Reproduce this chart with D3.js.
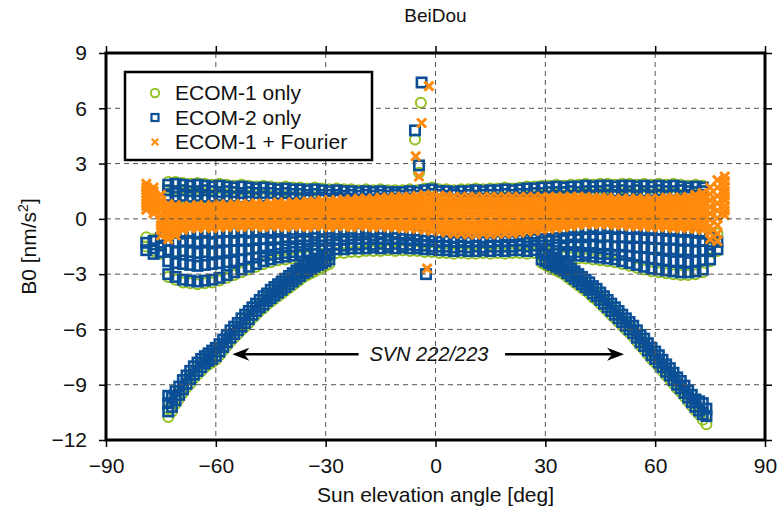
<!DOCTYPE html>
<html>
<head>
<meta charset="utf-8">
<script src="https://cdn.jsdelivr.net/npm/d3@7"></script>
<style>
  body { margin: 0; background: #fff; }
  svg { font-family: "Liberation Sans", Arial, Helvetica, sans-serif; }
</style>
</head>
<body>
<script>
// sun elevation grid (deg) for the main bands
const elev = [-79,-77,-75,-73,-71,-69,-67,-65,-63,-61,
  -59,-57,-55,-53,-51,-49,-47,-45,-43,-41,
  -39,-37,-35,-33,-31,-29,-27,-25,-23,-21,
  -19,-17,-15,-13,-11,-9,-7,-5,-3,-1,
  1,3,5,7,9,11,13,15,17,19,
  21,23,25,27,29,31,33,35,37,39,
  41,43,45,47,49,51,53,55,57,59,
  61,63,65,67,69,71,73,75,77,79];

// B0 values at each elevation (nm/s^2)
const ecom1Cols = [
  [-1.0,-1.5],[-1.1,-1.75],[-0.95,-1.9],
  [2.0,1.55,1.1,-0.8,-1.7,-3.15],[2.0,1.5,1.1,-0.75,-1.8,-3.3],[1.95,1.55,1.15,-0.8,-1.75,-3.45],
  [1.9,1.5,1.1,-0.75,-1.8,-3.5],[1.95,1.5,1.15,-0.8,-1.85,-3.55],[1.9,1.55,1.1,-0.75,-1.8,-3.5],
  [1.85,1.5,1.1,-0.8,-1.85,-3.45],
  [1.9,1.45,1.15,-0.75,-1.8,-3.35],[1.85,1.5,1.1,-0.7,-1.75,-3.2],[1.8,1.45,1.1,-0.75,-1.7,-3.05],
  [1.85,1.4,1.05,-0.7,-1.7,-2.9],[1.8,1.45,1.1,-0.75,-1.65,-2.75],[1.75,1.4,1.05,-0.7,-1.6,-2.6],
  [1.8,1.4,1.1,-0.7,-1.6,-2.45],[1.75,1.4,1.05,-0.75,-1.55,-2.35],[1.7,1.35,1.05,-0.7,-1.55,-2.25],
  [1.75,1.4,1.0,-0.7,-1.5,-2.2],
  [1.7,1.35,1.05,-0.75,-1.5,-2.15],[1.7,1.35,1.0,-0.7,-1.45,-2.1],[1.65,1.3,1.05,-0.7,-1.45,-2.05],
  [1.7,1.35,1.0,-0.75,-1.4,-1.9],[1.65,1.3,1.05,-0.7,-1.45,-1.9],[1.6,1.3,1.0,-0.7,-1.4,-1.9],
  [1.65,1.3,1.05,-0.75,-1.4,-1.85],[1.6,1.25,1.0,-0.7,-1.45,-1.85],[1.6,1.3,1.0,-0.7,-1.4,-1.8],
  [1.55,1.25,0.95,-0.75,-1.4,-1.8],
  [1.6,1.3,1.0,-0.7,-1.35,-1.75],[1.55,1.25,0.95,-0.7,-1.4,-1.75],[1.6,1.3,1.0,-0.75,-1.35,-1.75],
  [1.55,1.25,0.95,-0.7,-1.4,-1.7],[1.55,1.3,1.0,-0.75,-1.35,-1.75],[1.55,1.25,0.95,-0.8,-1.4,-1.7],
  [1.6,1.3,1.0,-0.8,-1.4,-1.75],[1.55,1.25,0.95,-0.85,-1.45,-1.75],[1.65,1.3,1.0,-0.9,-1.45,-1.8],
  [1.7,1.35,1.0,-0.9,-1.5,-1.8],
  [1.6,1.3,0.95,-0.95,-1.5,-1.85],[1.6,1.25,1.0,-0.95,-1.5,-1.85],[1.55,1.3,0.95,-1.0,-1.55,-1.9],
  [1.6,1.25,1.0,-0.95,-1.5,-1.85],[1.6,1.3,0.95,-1.0,-1.55,-1.9],[1.65,1.25,1.0,-0.95,-1.5,-1.9],
  [1.6,1.3,1.0,-1.0,-1.55,-1.85],[1.65,1.3,0.95,-0.95,-1.5,-1.9],[1.65,1.3,1.0,-0.95,-1.5,-1.85],
  [1.7,1.35,1.0,-0.9,-1.5,-1.9],
  [1.65,1.3,1.0,-0.9,-1.5,-1.85],[1.7,1.35,1.05,-0.85,-1.45,-1.85],[1.75,1.35,1.0,-0.8,-1.5,-1.9],
  [1.75,1.4,1.05,-0.8,-1.45,-1.85],[1.8,1.4,1.05,-0.75,-1.45,-1.9],[1.8,1.45,1.1,-0.7,-1.45,-1.85],
  [1.85,1.45,1.1,-0.7,-1.4,-1.9],[1.8,1.45,1.1,-0.65,-1.45,-2.05],[1.85,1.5,1.1,-0.6,-1.4,-2.1],
  [1.85,1.45,1.15,-0.6,-1.4,-2.15],
  [1.9,1.5,1.1,-0.55,-1.4,-2.15],[1.85,1.5,1.15,-0.55,-1.4,-2.2],[1.9,1.5,1.15,-0.55,-1.45,-2.25],
  [1.9,1.55,1.15,-0.5,-1.45,-2.3],[1.85,1.5,1.2,-0.55,-1.5,-2.35],[1.9,1.55,1.15,-0.5,-1.5,-2.45],
  [1.9,1.5,1.2,-0.55,-1.5,-2.55],[1.85,1.55,1.15,-0.55,-1.55,-2.65],[1.9,1.5,1.2,-0.6,-1.55,-2.75],
  [1.85,1.5,1.15,-0.6,-1.6,-2.85],
  [1.9,1.55,1.2,-0.6,-1.6,-2.9],[1.85,1.5,1.15,-0.65,-1.65,-2.95],[1.9,1.5,1.2,-0.65,-1.65,-3.0],
  [1.85,1.55,1.15,-0.7,-1.7,-3.05],[1.8,1.5,1.2,-0.7,-1.7,-3.05],[1.85,1.45,1.15,-0.75,-1.75,-3.0],
  [1.8,1.5,1.2,-0.8,-1.7,-2.9],[-0.85,-1.6,-2.3],[-0.8,-1.75],[]
];

const ecom2Cols = [
  [-1.3,-1.7],[-1.2,-1.6,-1.9],[-1.05,-1.45,-1.8],
  [1.85,1.55,1.25,-0.8,-1.2,-1.7,-2.3,-3.0],[1.9,1.5,1.2,-0.75,-1.25,-1.8,-2.4,-3.15],
  [1.85,1.55,1.25,-0.8,-1.2,-1.75,-2.45,-3.3],[1.8,1.5,1.2,-0.75,-1.2,-1.8,-2.5,-3.35],
  [1.85,1.5,1.25,-0.8,-1.25,-1.85,-2.55,-3.4],[1.8,1.55,1.2,-0.75,-1.2,-1.8,-2.5,-3.35],
  [1.75,1.5,1.2,-0.8,-1.25,-1.85,-2.45,-3.3],
  [1.8,1.45,1.25,-0.75,-1.2,-1.8,-2.4,-3.2],[1.75,1.5,1.2,-0.7,-1.2,-1.75,-2.35,-3.05],
  [1.7,1.45,1.2,-0.75,-1.2,-1.7,-2.3,-2.9],[1.75,1.4,1.15,-0.7,-1.15,-1.7,-2.2,-2.75],
  [1.7,1.45,1.2,-0.75,-1.2,-1.65,-2.15,-2.6],[1.65,1.4,1.15,-0.7,-1.15,-1.6,-2.1,-2.45],
  [1.7,1.4,1.2,-0.7,-1.1,-1.6,-2.0,-2.3],[1.65,1.4,1.15,-0.75,-1.15,-1.55,-1.95,-2.2],
  [1.6,1.35,1.15,-0.7,-1.1,-1.55,-1.9,-2.1],[1.65,1.4,1.1,-0.7,-1.15,-1.5,-1.85,-2.05],
  [1.6,1.35,1.15,-0.75,-1.1,-1.5,-1.8,-2.0],[1.6,1.35,1.1,-0.7,-1.1,-1.45,-1.8,-1.95],
  [1.55,1.3,1.15,-0.7,-1.1,-1.45,-1.75,-1.9],[1.6,1.35,1.1,-0.75,-1.05,-1.4,-1.7],
  [1.55,1.3,1.15,-0.7,-1.1,-1.45,-1.7],[1.5,1.3,1.1,-0.7,-1.05,-1.4,-1.7],
  [1.55,1.3,1.15,-0.75,-1.1,-1.4,-1.65],[1.5,1.25,1.1,-0.7,-1.1,-1.45,-1.65],
  [1.5,1.3,1.1,-0.7,-1.05,-1.4,-1.6],[1.45,1.25,1.05,-0.75,-1.1,-1.4,-1.6],
  [1.5,1.3,1.1,-0.7,-1.05,-1.35,-1.6],[1.45,1.25,1.05,-0.7,-1.1,-1.4,-1.55],
  [1.5,1.3,1.1,-0.75,-1.05,-1.35,-1.6],[1.45,1.25,1.05,-0.7,-1.1,-1.4,-1.55],
  [1.45,1.3,1.1,-0.75,-1.05,-1.35,-1.6],[1.45,1.25,1.05,-0.8,-1.1,-1.4,-1.55],
  [1.5,1.3,1.1,-0.8,-1.15,-1.4,-1.6],[1.45,1.25,1.05,-0.85,-1.15,-1.45,-1.6],
  [1.55,1.3,1.1,-0.9,-1.2,-1.45,-1.65],[1.6,1.35,1.1,-0.9,-1.2,-1.5,-1.65],
  [1.5,1.3,1.05,-0.95,-1.25,-1.5,-1.7],[1.5,1.25,1.1,-0.95,-1.2,-1.5,-1.7],
  [1.45,1.3,1.05,-1.0,-1.25,-1.55,-1.75],[1.5,1.25,1.1,-0.95,-1.25,-1.5,-1.7],
  [1.5,1.3,1.05,-1.0,-1.25,-1.55,-1.75],[1.55,1.25,1.1,-0.95,-1.2,-1.5,-1.75],
  [1.5,1.3,1.1,-1.0,-1.25,-1.55,-1.7],[1.55,1.3,1.05,-0.95,-1.25,-1.5,-1.75],
  [1.55,1.3,1.1,-0.95,-1.2,-1.5,-1.7],[1.6,1.35,1.1,-0.9,-1.2,-1.5,-1.75],
  [1.55,1.3,1.1,-0.9,-1.2,-1.5,-1.7],[1.6,1.35,1.15,-0.85,-1.15,-1.45,-1.7],
  [1.65,1.35,1.1,-0.8,-1.15,-1.5,-1.75],[1.65,1.4,1.15,-0.8,-1.1,-1.45,-1.7],
  [1.7,1.4,1.15,-0.75,-1.1,-1.45,-1.75],[1.7,1.45,1.2,-0.7,-1.1,-1.45,-1.7],
  [1.75,1.45,1.2,-0.7,-1.05,-1.4,-1.75],[1.7,1.45,1.2,-0.65,-1.05,-1.45,-1.8,-1.9],
  [1.75,1.5,1.2,-0.6,-1.0,-1.4,-1.8,-1.95],[1.75,1.45,1.25,-0.6,-1.0,-1.4,-1.8,-2.0],
  [1.8,1.5,1.2,-0.55,-1.0,-1.4,-1.85,-2.0],[1.75,1.5,1.25,-0.55,-0.95,-1.4,-1.85,-2.05],
  [1.8,1.5,1.25,-0.55,-1.0,-1.45,-1.9,-2.1],[1.8,1.55,1.25,-0.5,-0.95,-1.45,-1.9,-2.15],
  [1.75,1.5,1.3,-0.55,-1.0,-1.5,-1.95,-2.2],[1.8,1.55,1.25,-0.5,-1.0,-1.5,-1.95,-2.3],
  [1.8,1.5,1.3,-0.55,-1.05,-1.5,-2.0,-2.4],[1.75,1.55,1.25,-0.55,-1.0,-1.55,-2.05,-2.5],
  [1.8,1.5,1.3,-0.6,-1.05,-1.55,-2.1,-2.6],[1.75,1.5,1.25,-0.6,-1.05,-1.6,-2.15,-2.7],
  [1.8,1.55,1.3,-0.6,-1.1,-1.6,-2.2,-2.75],[1.75,1.5,1.25,-0.65,-1.1,-1.65,-2.25,-2.8],
  [1.8,1.5,1.3,-0.65,-1.1,-1.65,-2.3,-2.85],[1.75,1.55,1.25,-0.7,-1.15,-1.7,-2.3,-2.9],
  [1.7,1.5,1.3,-0.7,-1.15,-1.7,-2.35,-2.9],[1.75,1.45,1.25,-0.75,-1.2,-1.75,-2.3,-2.85],
  [1.7,1.5,1.3,-0.8,-1.2,-1.7,-2.25,-2.75],[-1.0,-1.4,-1.75,-2.2],[-1.25,-1.65],[]
];

const fourierCols = [
  [1.9,1.7,1.55,1.4,1.2,1.0,0.85,0.7,0.5],
  [1.7,1.5,1.35,1.2,1.0,0.8,0.65,0.5,0.3],
  [1.3,1.0,0.75,0.5,0.2,-0.1,-0.35,-0.6,-0.9],
  [0.8,0.55,0.35,0.1,-0.15,-0.4,-0.6,-0.85,-1.1],
  [0.75,0.55,0.35,0.15,-0.05,-0.25,-0.5,-0.7,-0.9],
  [0.7,0.55,0.35,0.2,0.05,-0.1,-0.25,-0.45,-0.6],
  [0.7,0.55,0.4,0.25,0.1,-0.05,-0.2,-0.35,-0.5],
  [0.75,0.6,0.45,0.3,0.1,-0.05,-0.2,-0.35,-0.5],
  [0.7,0.55,0.4,0.25,0.1,0,-0.15,-0.3,-0.45],
  [0.75,0.6,0.45,0.3,0.1,-0.05,-0.2,-0.35,-0.5],
  [0.8,0.65,0.5,0.35,0.15,0,-0.15,-0.3,-0.45],
  [0.75,0.6,0.45,0.3,0.15,0,-0.15,-0.3,-0.45],
  [0.8,0.65,0.5,0.35,0.2,0.05,-0.1,-0.25,-0.4],
  [0.8,0.65,0.5,0.35,0.15,0,-0.15,-0.3,-0.45],
  [0.8,0.65,0.5,0.35,0.2,0.05,-0.1,-0.25,-0.4],
  [0.85,0.7,0.55,0.4,0.2,0.05,-0.1,-0.25,-0.4],
  [0.8,0.65,0.5,0.35,0.15,0,-0.15,-0.3,-0.45],
  [0.85,0.7,0.55,0.4,0.2,0.05,-0.1,-0.25,-0.4],
  [0.9,0.75,0.55,0.4,0.25,0.1,-0.1,-0.25,-0.4],
  [0.85,0.7,0.5,0.35,0.2,0.05,-0.15,-0.3,-0.45],
  [0.9,0.75,0.55,0.4,0.25,0.1,-0.1,-0.25,-0.4],
  [0.9,0.75,0.55,0.4,0.25,0.1,-0.1,-0.25,-0.4],
  [0.95,0.8,0.6,0.45,0.25,0.1,-0.1,-0.25,-0.45],
  [0.95,0.8,0.6,0.45,0.3,0.1,-0.05,-0.25,-0.4],
  [1.0,0.85,0.65,0.5,0.3,0.1,-0.05,-0.2,-0.4],
  [1.0,0.8,0.65,0.45,0.3,0.1,-0.1,-0.25,-0.45],
  [1.0,0.85,0.65,0.5,0.3,0.1,-0.05,-0.2,-0.4],
  [1.05,0.85,0.7,0.5,0.3,0.15,-0.05,-0.2,-0.4],
  [1.05,0.85,0.7,0.5,0.3,0.1,-0.1,-0.25,-0.45],
  [1.1,0.9,0.75,0.55,0.35,0.15,0,-0.2,-0.4],
  [1.1,0.9,0.75,0.55,0.35,0.15,0,-0.2,-0.4],
  [1.1,0.9,0.7,0.5,0.3,0.15,-0.05,-0.25,-0.45],
  [1.15,0.95,0.75,0.55,0.4,0.2,0,-0.2,-0.4],
  [1.15,0.95,0.75,0.55,0.35,0.15,-0.05,-0.25,-0.45],
  [1.2,1.0,0.8,0.6,0.4,0.15,-0.05,-0.25,-0.45],
  [1.2,1.0,0.75,0.55,0.35,0.15,-0.1,-0.3,-0.5],
  [1.2,1.0,0.75,0.55,0.35,0.15,-0.1,-0.3,-0.5],
  [1.25,1.05,0.8,0.55,0.35,0.1,-0.1,-0.3,-0.55],
  [1.3,1.05,0.85,0.6,0.35,0.1,-0.1,-0.35,-0.6],
  [1.3,1.05,0.8,0.55,0.35,0.1,-0.15,-0.4,-0.65],
  [1.25,1.0,0.75,0.55,0.3,0.05,-0.2,-0.45,-0.7],
  [1.25,1.0,0.75,0.5,0.25,0,-0.25,-0.5,-0.75],
  [1.2,0.95,0.7,0.45,0.2,-0.05,-0.3,-0.55,-0.8],
  [1.2,0.95,0.7,0.45,0.2,-0.05,-0.3,-0.55,-0.8],
  [1.2,0.95,0.7,0.45,0.2,-0.1,-0.35,-0.6,-0.85],
  [1.2,0.95,0.7,0.45,0.2,-0.1,-0.35,-0.6,-0.85],
  [1.2,0.95,0.7,0.45,0.2,-0.05,-0.3,-0.55,-0.8],
  [1.2,0.95,0.7,0.45,0.2,-0.1,-0.35,-0.6,-0.85],
  [1.2,0.95,0.7,0.45,0.2,-0.05,-0.3,-0.55,-0.8],
  [1.2,0.95,0.7,0.45,0.2,-0.05,-0.3,-0.55,-0.8],
  [1.2,0.95,0.7,0.45,0.2,-0.05,-0.3,-0.55,-0.8],
  [1.2,0.95,0.7,0.45,0.2,-0.05,-0.25,-0.5,-0.75],
  [1.2,0.95,0.75,0.5,0.25,0.05,-0.2,-0.45,-0.7],
  [1.2,0.95,0.75,0.5,0.3,0.05,-0.2,-0.4,-0.65],
  [1.2,0.95,0.75,0.5,0.3,0.1,-0.15,-0.35,-0.6],
  [1.2,1.0,0.75,0.55,0.35,0.1,-0.1,-0.35,-0.55],
  [1.2,1.0,0.75,0.55,0.35,0.15,-0.05,-0.3,-0.5],
  [1.2,1.0,0.8,0.6,0.4,0.15,-0.05,-0.25,-0.45],
  [1.2,1.0,0.8,0.6,0.4,0.2,0,-0.2,-0.4],
  [1.2,1.0,0.8,0.6,0.4,0.25,0.05,-0.15,-0.35],
  [1.2,1.0,0.85,0.65,0.45,0.25,0.05,-0.1,-0.3],
  [1.15,0.95,0.8,0.6,0.45,0.25,0.05,-0.1,-0.3],
  [1.15,0.95,0.8,0.6,0.45,0.25,0.05,-0.1,-0.3],
  [1.15,0.95,0.8,0.6,0.45,0.25,0.05,-0.1,-0.3],
  [1.1,0.9,0.75,0.55,0.35,0.2,0,-0.15,-0.35],
  [1.1,0.9,0.75,0.55,0.35,0.2,0,-0.15,-0.35],
  [1.1,0.9,0.75,0.55,0.35,0.15,0,-0.2,-0.4],
  [1.1,0.9,0.75,0.55,0.35,0.15,0,-0.2,-0.4],
  [1.1,0.9,0.75,0.55,0.35,0.15,0,-0.2,-0.4],
  [1.1,0.9,0.7,0.5,0.3,0.15,-0.05,-0.25,-0.45],
  [1.1,0.9,0.7,0.5,0.3,0.15,-0.05,-0.25,-0.45],
  [1.15,0.95,0.75,0.55,0.35,0.15,-0.05,-0.25,-0.45],
  [1.15,0.95,0.75,0.55,0.35,0.1,-0.1,-0.3,-0.5],
  [1.15,0.95,0.75,0.55,0.35,0.1,-0.1,-0.3,-0.5],
  [1.2,1.0,0.75,0.55,0.35,0.15,-0.1,-0.3,-0.5],
  [1.3,1.05,0.85,0.6,0.4,0.15,-0.1,-0.3,-0.55],
  [1.4,1.15,0.9,0.65,0.4,0.15,-0.1,-0.35,-0.6],
  [1.7,1.35,1.0,0.65,0.3,-0.05,-0.4,-0.75,-1.1],
  [2.1,1.7,1.25,0.85,0.45,0.05,-0.35,-0.8,-1.2],
  [2.3,2.05,1.75,1.5,1.25,1.0,0.7,0.45,0.2]
];

// SVN 222/223 arcs, 1 deg steps
const arcElevL = [-73,-72,-71,-70,-69,-68,-67,-66,-65,-64,
  -63,-62,-61,-60,-59,-58,-57,-56,-55,-54,
  -53,-52,-51,-50,-49,-48,-47,-46,-45,-44,
  -43,-42,-41,-40,-39,-38,-37,-36,-35,-34,
  -33,-32,-31,-30,-29];
const arcElevR = [29,30,31,32,33,34,35,36,37,38,
  39,40,41,42,43,44,45,46,47,48,
  49,50,51,52,53,54,55,56,57,58,
  59,60,61,62,63,64,65,66,67,68,
  69,70,71,72,73,74];

const ecom1ArcL = [[-10.75,-10.3],[-10.45,-10.0],[-10.05,-9.65],[-9.75,-9.35],[-9.45,-9.05],
  [-9.15,-8.75],[-8.95,-8.55],[-8.65,-8.25],[-8.45,-8.05],[-8.25,-7.85],
  [-8.05,-7.65],[-7.9,-7.5],[-7.8,-7.4],[-7.65,-7.25],[-7.4,-7.0],
  [-7.15,-6.75],[-6.9,-6.5],[-6.65,-6.25],[-6.45,-6.05],[-6.25,-5.85],
  [-6.05,-5.65],[-5.85,-5.45],[-5.65,-5.25],[-5.4,-5.0],[-5.2,-4.8],
  [-5.0,-4.6],[-4.85,-4.45],[-4.65,-4.25],[-4.5,-4.1],[-4.35,-3.95],
  [-4.2,-3.8],[-4.05,-3.65],[-3.9,-3.5],[-3.75,-3.35],[-3.6,-3.2],
  [-3.45,-3.05],[-3.3,-2.9],[-3.15,-2.75],[-3.05,-2.65],[-2.95,-2.55],
  [-2.85,-2.45],[-2.75,-2.35],[-2.65,-2.25],[-2.55,-2.15],[-2.45,-2.05]];
const ecom2ArcL = [[-9.6,-10.0,-10.45],[-9.7,-10.2],[-9.35,-9.85],[-9.1,-9.55],[-8.75,-9.25],
  [-8.5,-8.95],[-8.25,-8.7],[-8.0,-8.45],[-7.8,-8.25],[-7.6,-8.05],
  [-7.45,-7.85],[-7.3,-7.7],[-7.15,-7.6],[-7.0,-7.45],[-6.8,-7.2],
  [-6.55,-6.95],[-6.3,-6.7],[-6.05,-6.45],[-5.85,-6.25],[-5.65,-6.05],
  [-5.4,-5.85],[-5.2,-5.65],[-5.0,-5.45],[-4.8,-5.2],[-4.6,-5.0],
  [-4.4,-4.8],[-4.2,-4.65],[-4.05,-4.45],[-3.85,-4.3],[-3.7,-4.15],
  [-3.55,-4.0],[-3.4,-3.85],[-3.25,-3.7],[-3.1,-3.55],[-2.95,-3.4],
  [-2.8,-3.25],[-2.7,-3.1],[-2.55,-2.95],[-2.45,-2.85],[-2.35,-2.7],
  [-2.25,-2.6],[-2.15,-2.5],[-2.05,-2.4],[-2.0,-2.3],[-1.9,-2.2]];
const ecom1ArcR = [[-2.4,-2.05],[-2.5,-2.15],[-2.6,-2.25],[-2.7,-2.35],[-2.8,-2.45],
  [-2.9,-2.55],[-3.0,-2.65],[-3.15,-2.8],[-3.3,-2.95],[-3.45,-3.1],
  [-3.6,-3.25],[-3.75,-3.4],[-3.9,-3.55],[-4.05,-3.7],[-4.25,-3.9],
  [-4.4,-4.05],[-4.6,-4.25],[-4.8,-4.45],[-5.0,-4.65],[-5.2,-4.85],
  [-5.4,-5.05],[-5.6,-5.25],[-5.8,-5.45],[-6.0,-5.65],[-6.2,-5.85],
  [-6.4,-6.05],[-6.65,-6.3],[-6.9,-6.55],[-7.1,-6.75],[-7.35,-7.0],
  [-7.6,-7.25],[-7.8,-7.45],[-8.0,-7.65],[-8.25,-7.9],[-8.5,-8.15],
  [-8.7,-8.35],[-8.95,-8.6],[-9.2,-8.85],[-9.4,-9.05],[-9.65,-9.3],
  [-9.9,-9.55],[-10.15,-9.8],[-10.4,-10.05],[-10.6,-10.25],[-10.9,-10.45],[-11.15,-10.65]];
const ecom2ArcR = [[-1.85,-2.2],[-1.95,-2.3],[-2.05,-2.4],[-2.1,-2.5],[-2.2,-2.6],
  [-2.3,-2.7],[-2.4,-2.8],[-2.55,-2.95],[-2.7,-3.1],[-2.85,-3.25],
  [-3.0,-3.4],[-3.15,-3.55],[-3.3,-3.7],[-3.45,-3.85],[-3.65,-4.05],
  [-3.8,-4.2],[-4.0,-4.4],[-4.2,-4.6],[-4.4,-4.8],[-4.6,-5.0],
  [-4.8,-5.2],[-5.0,-5.4],[-5.2,-5.6],[-5.4,-5.8],[-5.6,-6.0],
  [-5.8,-6.2],[-6.05,-6.45],[-6.3,-6.7],[-6.5,-6.9],[-6.75,-7.15],
  [-7.0,-7.4],[-7.2,-7.6],[-7.4,-7.8],[-7.65,-8.05],[-7.9,-8.3],
  [-8.1,-8.5],[-8.35,-8.75],[-8.6,-9.0],[-8.8,-9.2],[-9.05,-9.45],
  [-9.3,-9.7],[-9.55,-9.95],[-9.8,-10.2],[-9.9,-10.4],[-10.0,-10.6],[-10.3,-10.7]];

// outliers near zero elevation [elev, B0]
const ecom1Odd = [[-4.0,6.3],[-5.6,4.3],[-4.5,2.5],[-3.4,-1.4]];
const ecom2Odd = [[-3.8,7.4],[-5.6,4.8],[-4.5,2.9],[-2.6,-3.0]];
const fourierOdd = [[-1.8,7.2],[-3.8,5.2],[-5.4,3.4],[-4.5,2.3],[-2.3,-2.7]];

const xTicks = [-90,-60,-30,0,30,60,90];
const yTicks = [-12,-9,-6,-3,0,3,6,9];
const seriesNames = ["ECOM-1 only","ECOM-2 only","ECOM-1 + Fourier"];
const colors = ["#93c11f","#0b4f97","#ff8a0c"];
const arrows = [{from: -21, to: -55.5, at: -7.35}, {from: 19, to: 51.5, at: -7.35}];

let W = 778, H = 511;
let margin = { top: 53, right: 13, bottom: 71, left: 106 },
  width = W - margin.left - margin.right,
  height = H - margin.top - margin.bottom;

let svg = d3.select("body").append("svg").attr("width", W).attr("height", H);
let g = svg.append("g").attr("transform", "translate(" + margin.left + "," + margin.top + ")");

let x = d3.scaleLinear().domain([-90, 90]).range([0, width]);
let y = d3.scaleLinear().domain([-12, 9]).range([height, 0]);

function cloud(xs, cols) {
  return cols.flatMap((c, i) => c.map((v) => [xs[i], v]));
}

let ecom1Pts = cloud(elev, ecom1Cols).concat(cloud(arcElevL, ecom1ArcL), cloud(arcElevR, ecom1ArcR), ecom1Odd);
let ecom2Pts = cloud(elev, ecom2Cols).concat(cloud(arcElevL, ecom2ArcL), cloud(arcElevR, ecom2ArcR), ecom2Odd);
let fourierPts = cloud(elev, fourierCols).concat(fourierOdd);

// marker drawers (legend)
function circles(sel, r) {
  return sel.append("circle").attr("r", r).attr("fill", "none")
    .attr("stroke", colors[0]).attr("stroke-width", 1.9);
}
function squares(sel, s) {
  return sel.append("rect").attr("x", -s / 2).attr("y", -s / 2).attr("width", s).attr("height", s)
    .attr("fill", "none").attr("stroke", colors[1]).attr("stroke-width", 2.2);
}
function crosses(sel, s) {
  return sel.append("path").attr("d", "M" + -s + "," + -s + "L" + s + "," + s + "M" + -s + "," + s + "L" + s + "," + -s)
    .attr("stroke", colors[2]).attr("stroke-width", 2).attr("fill", "none");
}

let plot = g.append("g");
plot.append("g").selectAll("circle").data(ecom1Pts).enter().append("circle")
  .attr("cx", (d) => x(d[0])).attr("cy", (d) => y(d[1])).attr("r", 5)
  .attr("fill", "none").attr("stroke", colors[0]).attr("stroke-width", 2);

plot.append("g").selectAll("rect").data(ecom2Pts).enter().append("rect")
  .attr("x", (d) => x(d[0]) - 4.7).attr("y", (d) => y(d[1]) - 4.7)
  .attr("width", 9.4).attr("height", 9.4)
  .attr("fill", "none").attr("stroke", colors[1]).attr("stroke-width", 2.6);

plot.append("g").selectAll("path").data(fourierPts).enter().append("path")
  .attr("transform", (d) => "translate(" + x(d[0]) + "," + y(d[1]) + ")")
  .attr("d", "M-4.5,-4.5L4.5,4.5M-4.5,4.5L4.5,-4.5")
  .attr("stroke", colors[2]).attr("stroke-width", 3).attr("fill", "none");

// grid on top of the points
let grid = g.append("g").attr("stroke", "#555").attr("stroke-width", 1).attr("stroke-dasharray", "5,4");
grid.selectAll(".gx").data(xTicks.slice(1, -1)).enter().append("line")
  .attr("x1", (d) => x(d)).attr("x2", (d) => x(d)).attr("y1", 0).attr("y2", height);
grid.selectAll(".gy").data(yTicks.slice(1, -1)).enter().append("line")
  .attr("y1", (d) => y(d)).attr("y2", (d) => y(d)).attr("x1", 0).attr("x2", width);

// axes
let axB = g.append("g").attr("transform", "translate(0," + height + ")")
  .call(d3.axisBottom(x).tickValues(xTicks).tickSize(7).tickPadding(11));
let axL = g.append("g")
  .call(d3.axisLeft(y).tickValues(yTicks).tickSize(7).tickPadding(12));
let axT = g.append("g")
  .call(d3.axisTop(x).tickValues(xTicks).tickSize(7).tickFormat(""));
let axR = g.append("g").attr("transform", "translate(" + width + ",0)")
  .call(d3.axisRight(y).tickValues(yTicks).tickSize(7).tickFormat(""));
[axB, axL, axT, axR].forEach((a) => {
  a.select(".domain").remove();
  a.selectAll("line").attr("stroke", "#000").attr("stroke-width", 1.5);
  a.selectAll("text").attr("font-size", 21).attr("fill", "#111")
    .style("font-family", '"Liberation Sans", Arial, Helvetica, sans-serif');
});

g.append("rect").attr("width", width).attr("height", height)
  .attr("fill", "none").attr("stroke", "#000").attr("stroke-width", 3);

// legend
let legend = g.append("g").attr("transform", "translate(19,19)");
legend.append("rect").attr("width", 247).attr("height", 88)
  .attr("fill", "#fff").attr("stroke", "#000").attr("stroke-width", 2.5);
seriesNames.forEach((name, i) => {
  let row = legend.append("g").attr("transform", "translate(30," + (21 + i * 24.5) + ")");
  if (i == 0) circles(row, 4.2);
  if (i == 1) squares(row, 7);
  if (i == 2) crosses(row, 3.3);
  row.append("text").attr("x", 20).attr("dy", "0.35em").attr("font-size", 21)
    .attr("fill", "#111").text(name);
});

// SVN 222/223 annotation
arrows.forEach((a) => {
  let dir = Math.sign(x(a.to) - x(a.from));
  let tx = x(a.to), ty = y(a.at);
  g.append("line").attr("x1", x(a.from)).attr("x2", tx - dir * 10)
    .attr("y1", ty).attr("y2", ty).attr("stroke", "#000").attr("stroke-width", 2.5);
  g.append("path")
    .attr("d", "M" + tx + "," + ty + "L" + (tx - dir * 17) + "," + (ty - 6.5) + "L" + (tx - dir * 12) + "," + ty +
      "L" + (tx - dir * 17) + "," + (ty + 6.5) + "Z")
    .attr("fill", "#000");
});
g.append("text").attr("x", x(-1.8)).attr("y", y(-7.35)).attr("dy", "0.35em")
  .attr("text-anchor", "middle").attr("font-size", 20).attr("font-style", "italic")
  .attr("fill", "#111").text("SVN 222/223");

// titles
svg.append("text").attr("x", margin.left + width / 2).attr("y", 22)
  .attr("text-anchor", "middle").attr("font-size", 19).attr("fill", "#111").text("BeiDou");
svg.append("text").attr("x", margin.left + width / 2).attr("y", 502)
  .attr("text-anchor", "middle").attr("font-size", 21).attr("fill", "#111").text("Sun elevation angle [deg]");
let yl = svg.append("text").attr("transform", "translate(36," + (margin.top + height / 2) + ") rotate(-90)")
  .attr("text-anchor", "middle").attr("font-size", 21).attr("fill", "#111");
yl.append("tspan").text("B0 [nm/s");
yl.append("tspan").attr("font-size", 14).attr("dy", -8).text("2");
yl.append("tspan").attr("dy", 8).text("]");
</script>
</body>
</html>
